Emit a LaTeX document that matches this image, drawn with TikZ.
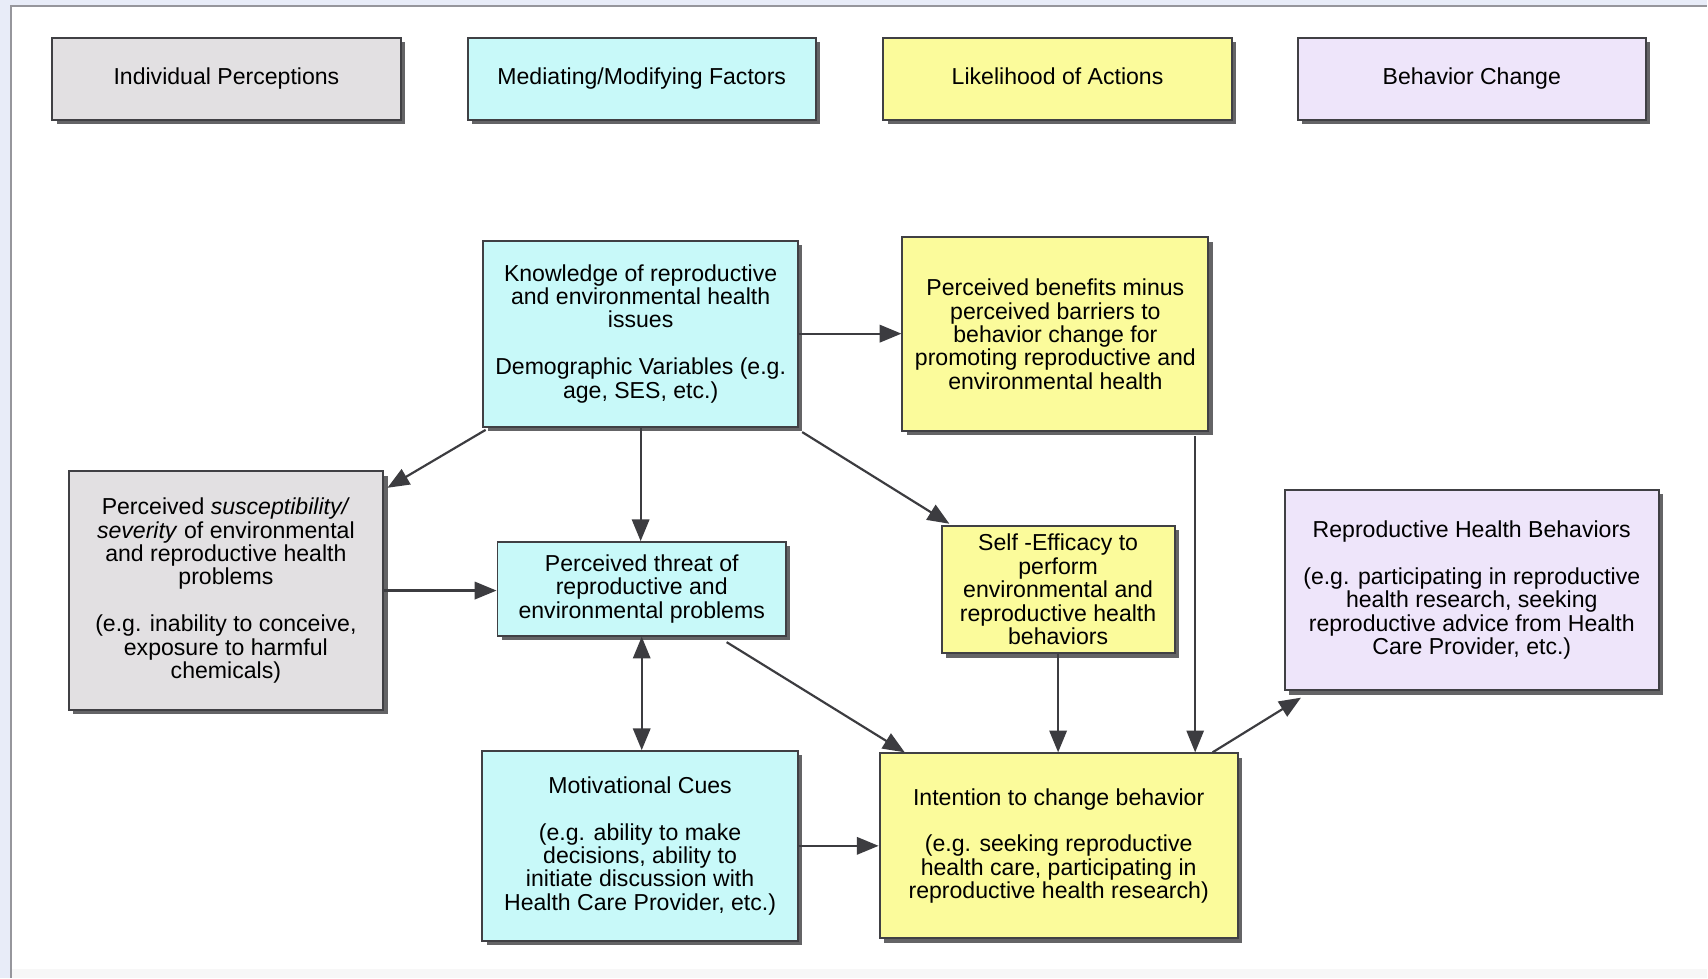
\documentclass[tikz,border=0pt]{standalone}
\usepackage{fontspec}
\setmainfont{Liberation Sans}
\usetikzlibrary{arrows.meta,shadows,calc}

\definecolor{boxgrey}{RGB}{226,224,226}
\definecolor{boxcyan}{RGB}{200,249,249}
\definecolor{boxyellow}{RGB}{251,251,155}
\definecolor{boxlav}{RGB}{238,229,250}
\definecolor{edgegrey}{RGB}{64,64,68}
\definecolor{shadegrey}{RGB}{100,100,102}
\definecolor{wiregrey}{RGB}{60,60,64}
\definecolor{outerbg}{RGB}{232,236,248}
\definecolor{panelline}{RGB}{150,150,156}

\tikzset{
  box/.style={draw=edgegrey, line width=0.9pt, align=center, inner sep=0pt,
    drop shadow={shadow xshift=2pt, shadow yshift=-2pt, fill=shadegrey, opacity=1}},
  headbox/.style={box, minimum width=160pt, minimum height=37.5pt, text height=7.8pt, text depth=2.4pt},
  tip/.tip={Triangle[length=10pt,width=8pt]},
  arr/.style={-tip, line width=1pt, draw=wiregrey, fill=wiregrey},
  thinarr/.style={arr, line width=0.7pt},
  twoarr/.style={tip-tip, line width=1pt, draw=wiregrey, fill=wiregrey}
}

\begin{document}
\begin{tikzpicture}[x=0.5pt, y=-0.5pt, font=\fontsize{10.6}{10.75}\selectfont]
  % page backdrop and white panel
  \fill[outerbg] (0,0) rectangle (1568,898);
  \fill[white] (10,5.5) rectangle (1568,890);
  \fill[black!3] (10,890) rectangle (1568,898);
  \draw[panelline, line width=1pt] (10,898) -- (10,5.5) -- (1568,5.5);
  \useasboundingbox (0,0) rectangle (1568,898);

  % column headings
  \node[headbox, fill=boxgrey]   (h1) at (208,72.5)    {Individual Perceptions};
  \node[headbox, fill=boxcyan]   (h2) at (589.5,72.5)  {Mediating/Modifying Factors};
  \node[headbox, fill=boxyellow] (h3) at (971.5,72.5)  {Likelihood of Actions};
  \node[headbox, fill=boxlav]    (h4) at (1352,72.5)   {Behavior Change};

  % model boxes
  \node[box, fill=boxcyan, minimum width=144.5pt, minimum height=85.5pt] (know) at (588.5,306.5)
    {Knowledge of reproductive\\and environmental health\\issues\\[10.75pt]Demographic Variables (e.g.\\age, SES, etc.)};
  \node[box, fill=boxyellow, minimum width=140.5pt, minimum height=89pt] (benefit) at (969.5,307)
    {Perceived benefits minus\\perceived barriers to\\behavior change for\\promoting reproductive and\\environmental health};
  \node[box, fill=boxgrey, minimum width=144.5pt, minimum height=109.5pt] (suscept) at (207.5,542.5)
    {Perceived \textit{susceptibility/}\\\textit{severity} of environmental\\and reproductive health\\problems\\[10.75pt](e.g. inability to conceive,\\exposure to harmful\\chemicals)};
  \node[box, fill=boxcyan, minimum width=132.5pt, minimum height=43pt] (threat) at (589.5,541)
    {Perceived threat of\\reproductive and\\environmental problems};
  \node[box, fill=boxyellow, minimum width=107pt, minimum height=58.5pt] (efficacy) at (972,541.5)
    {Self -Efficacy to\\perform\\environmental and\\reproductive health\\behaviors};
  \node[box, fill=boxlav, minimum width=172pt, minimum height=92pt] (behav) at (1352,542)
    {Reproductive Health Behaviors\\[10.75pt](e.g. participating in reproductive\\health research, seeking\\reproductive advice from Health\\Care Provider, etc.)};
  \node[box, fill=boxcyan, minimum width=145pt, minimum height=87pt] (cues) at (588,777)
    {Motivational Cues\\[10.75pt](e.g. ability to make\\decisions, ability to\\initiate discussion with\\Health Care Provider, etc.)};
  \node[box, fill=boxyellow, minimum width=164.5pt, minimum height=85pt] (intent) at (972.5,777)
    {Intention to change behavior\\[10.75pt](e.g. seeking reproductive\\health care, participating in\\reproductive health research)};

  % connectors
  \draw[arr] (know.east) -- (know.east -| benefit.west);
  \draw[arr] ([shift={(3,2)}]know.south west) -- ([shift={(3,16)}]suscept.north east);
  \draw[arr] (know.south) -- (know.south |- threat.north);
  \draw[arr] ([shift={(3,4)}]know.south east) -- ([shift={(8,-1)}]efficacy.north west);
  \draw[arr] (suscept.east) -- (suscept.east -| threat.west);
  \draw[twoarr] (threat.south) -- (threat.south |- cues.north);
  \draw[arr] ([shift={(78,5)}]threat.south) -- ([shift={(24,0)}]intent.north west);
  \draw[arr] (cues.east) -- (cues.east -| intent.west);
  \draw[arr] (efficacy.south) -- (efficacy.south |- intent.north);
  \coordinate (drop) at ([shift={(-13,4)}]benefit.south east);
  \draw[thinarr] (drop) -- (drop |- intent.north);
  \draw[arr] ([shift={(-24,0)}]intent.north east) -- ([shift={(16,6)}]behav.south west);
\end{tikzpicture}
\end{document}
